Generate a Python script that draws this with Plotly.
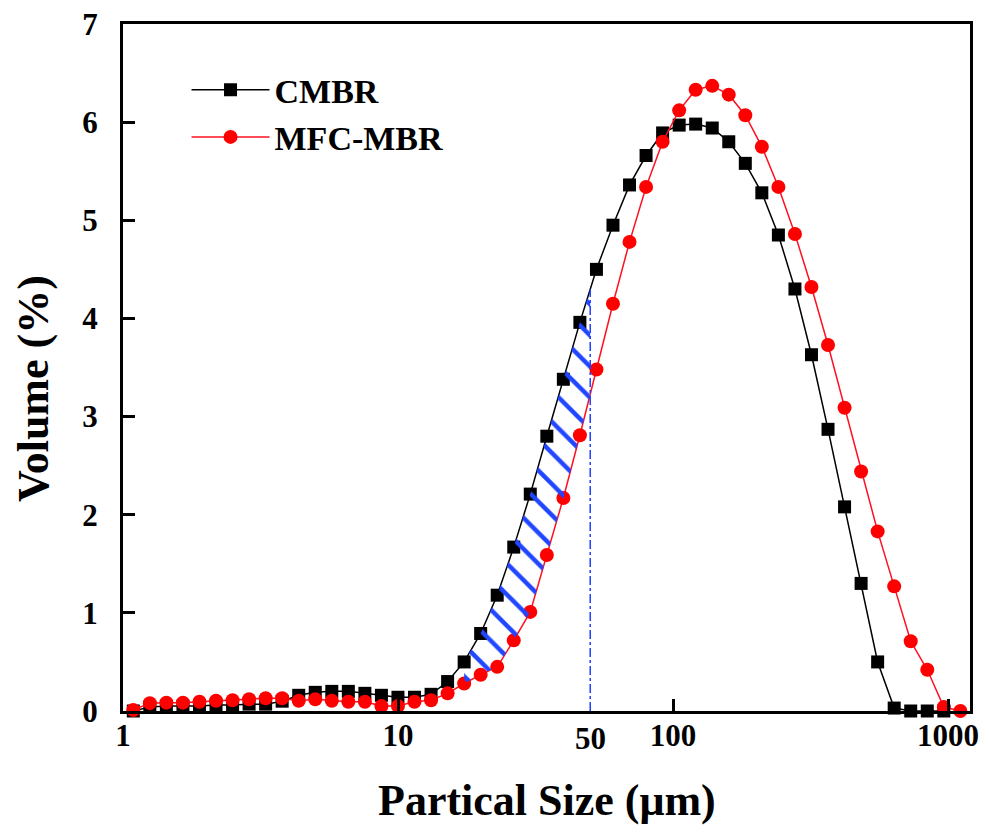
import numpy as np
import plotly.graph_objects as go

# Particle size grid (μm)
size_um = [1.090, 1.252, 1.438, 1.652, 1.897, 2.179, 2.503, 2.874, 3.301, 3.791,
           4.355, 5.002, 5.745, 6.598, 7.578, 8.704, 9.995, 11.48, 13.19, 15.15,
           17.40, 19.98, 22.95, 26.36, 30.27, 34.77, 39.93, 45.86, 52.68, 60.50,
           69.49, 79.81, 91.67, 105.3, 120.9, 138.9, 159.5, 183.2, 210.4, 241.7,
           277.6, 318.8, 366.2, 420.6, 483.1, 554.8, 637.3, 731.9, 840.7, 965.6,
           1109]

cmbr = [0.00, 0.04, 0.05, 0.05, 0.05, 0.06, 0.06, 0.07, 0.07, 0.10,
        0.16, 0.19, 0.20, 0.20, 0.18, 0.16, 0.14, 0.14, 0.17, 0.30,
        0.50, 0.79, 1.18, 1.67, 2.21, 2.80, 3.38, 3.96, 4.50, 4.95,
        5.36, 5.66, 5.89, 5.97, 5.98, 5.94, 5.80, 5.58, 5.28, 4.85,
        4.30, 3.63, 2.87, 2.08, 1.30, 0.50, 0.03, 0.00, 0.00, 0.00]

mfc_mbr = [0.01, 0.08, 0.085, 0.085, 0.095, 0.105, 0.11, 0.12, 0.13, 0.13,
           0.105, 0.12, 0.105, 0.095, 0.095, 0.05, 0.05, 0.095, 0.11, 0.18,
           0.28, 0.37, 0.45, 0.72, 1.01, 1.59, 2.17, 2.81, 3.48, 4.15,
           4.78, 5.34, 5.80, 6.12, 6.33, 6.37, 6.28, 6.07, 5.75, 5.34,
           4.86, 4.32, 3.73, 3.09, 2.44, 1.83, 1.27, 0.71, 0.42, 0.04, 0.00]

x_ticks = [1, 10, 100, 1000]
y_ticks = [0, 1, 2, 3, 4, 5, 6, 7]
cut_size = 50          # dashed marker line (μm)
hatch_start = 17.40    # hatched region starts here (μm)

FONT = "Liberation Serif, Times New Roman, serif"
TICKFONT = dict(family=FONT, size=31, color="black", weight="bold")
TITLEFONT = dict(family=FONT, size=44, color="black", weight="bold")

x_b = np.array(size_um[:len(cmbr)])
x_r = np.array(size_um[:len(mfc_mbr)])
y_b = np.array(cmbr)
y_r = np.array(mfc_mbr)

# values at the cut size (interpolated in log-x)
b_cut = float(np.interp(np.log10(cut_size), np.log10(x_b), y_b))
r_cut = float(np.interp(np.log10(cut_size), np.log10(x_r), y_r))

mask_b = (x_b >= hatch_start) & (x_b < cut_size)
mask_r = (x_r >= hatch_start) & (x_r < cut_size)
hx_b = list(x_b[mask_b]) + [cut_size]
hy_b = list(y_b[mask_b]) + [b_cut]
hx_r = list(x_r[mask_r]) + [cut_size]
hy_r = list(y_r[mask_r]) + [r_cut]

fig = go.Figure()

fig.add_trace(go.Scatter(x=x_b, y=y_b, mode="lines+markers", name="CMBR",
                         line=dict(color="black", width=1.5),
                         marker=dict(symbol="square", size=13, color="black"),
                         cliponaxis=False))
fig.add_trace(go.Scatter(x=x_r, y=y_r, mode="lines+markers", name="MFC-MBR",
                         line=dict(color="#ff1020", width=1.5),
                         marker=dict(symbol="circle", size=14, color="#ff0000"),
                         cliponaxis=False))

# hatched band between the curves
fig.add_trace(go.Scatter(x=hx_b, y=hy_b, mode="lines", line=dict(width=0, color="rgba(0,0,0,0)"),
                         showlegend=False, hoverinfo="skip"))
fig.add_trace(go.Scatter(x=hx_r, y=hy_r, mode="lines", line=dict(width=0, color="rgba(0,0,0,0)"),
                         fill="tonexty", fillcolor="rgba(255,255,255,0)",
                         fillpattern=dict(shape="\\", fgcolor="#2146ff", bgcolor="rgba(255,255,255,0)",
                                          size=22, solidity=0.2, fillmode="replace"),
                         showlegend=False, hoverinfo="skip"))

# dashed vertical line at the cut size
fig.add_trace(go.Scatter(x=[cut_size, cut_size], y=[0, b_cut], mode="lines",
                         line=dict(color="#1f3fff", width=1.5, dash="dashdot"),
                         showlegend=False, hoverinfo="skip"))

fig.update_layout(
    width=989, height=832,
    margin=dict(l=115, r=27, t=16, b=129, autoexpand=False),
    plot_bgcolor="white", paper_bgcolor="white",
    font=dict(family=FONT, color="black"),
    showlegend=True,
    legend=dict(x=0.075, y=0.946, xanchor="left", yanchor="top",
                bgcolor="rgba(0,0,0,0)", borderwidth=0, traceorder="normal",
                font=dict(family=FONT, size=34, color="black", weight="bold"),
                tracegroupgap=0, itemwidth=78),
    annotations=[
        dict(x=np.log10(cut_size), y=0, xref="x", yref="paper",
             text="50", showarrow=False, yanchor="middle", yshift=-27,
             font=TICKFONT),
        dict(x=0.5, y=-0.1296, xref="paper", yref="paper", text="Partical Size (μm)",
             showarrow=False, xanchor="center", yanchor="middle", font=TITLEFONT),
        dict(x=-0.1063, y=0.47, xref="paper", yref="paper", text="Volume (%)",
             showarrow=False, xanchor="center", yanchor="middle", textangle=-90,
             font=TITLEFONT),
    ],
)

fig.update_xaxes(type="log", range=[0, 3.08], automargin=False,
                 tickvals=x_ticks, ticktext=[str(v) for v in x_ticks],
                 ticks="inside", ticklen=12, tickwidth=3, tickcolor="black",
                 showline=True, linewidth=3, linecolor="black", mirror=True,
                 showgrid=False, zeroline=False, ticklabeloverflow="allow",
                 tickfont=TICKFONT, ticklabelstandoff=-5)
fig.update_yaxes(range=[0, 7], tickvals=y_ticks, automargin=False,
                 ticks="inside", ticklen=12, tickwidth=3, tickcolor="black",
                 showline=True, linewidth=3, linecolor="black", mirror=True,
                 showgrid=False, zeroline=False, ticklabeloverflow="allow",
                 tickfont=TICKFONT, ticklabelstandoff=16)

fig.write_html("out.html")
